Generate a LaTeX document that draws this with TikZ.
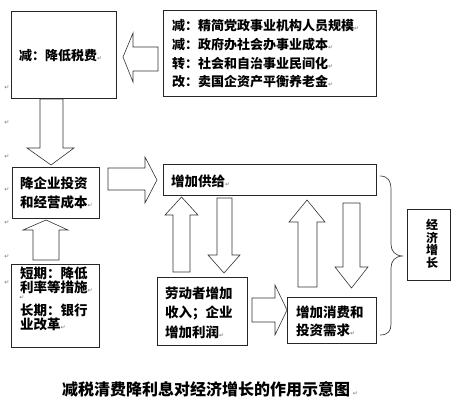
\documentclass[tikz,border=0pt]{standalone}
\usepackage{fontspec}
\newfontfamily\cjk{Noto Sans CJK SC}
\newfontfamily\dvfont{DejaVu Sans}
\newcommand\retmark{{\dvfont\mdseries\fontsize{6}{6}\selectfont\textcolor{black!55}{↵}}}
\tikzset{
  boxst/.style={draw=black!85, line width=0.7pt, fill=white, inner sep=0pt, anchor=north west},
  fat/.style={draw=black!80, line width=0.6pt, fill=white, line join=miter},
  txt/.style={inner sep=0pt, align=left, anchor=west, font=\cjk},
  pmark/.style={inner sep=0pt}
}
\begin{document}
\begin{tikzpicture}[x=1pt,y=-1pt]
\useasboundingbox (0,0) rectangle (460,404);
% boxes
\node[boxst, minimum width=105pt, minimum height=87pt] (b1) at (11,11) {};
\node[boxst, minimum width=213pt, minimum height=86pt] (b2) at (163,10) {};
\node[boxst, minimum width=87pt, minimum height=51pt] (b3) at (12,167) {};
\node[boxst, minimum width=88pt, minimum height=83pt] (b4) at (11,264) {};
\node[boxst, minimum width=213pt, minimum height=31pt] (b5) at (163,164) {};
\node[boxst, minimum width=90pt, minimum height=68pt] (b6) at (157,277) {};
\node[boxst, minimum width=89pt, minimum height=46pt] (b7) at (287,297) {};
\node[boxst, minimum width=43pt, minimum height=71pt] (b8) at (407,209) {};
% texts
\node[txt, font=\cjk\bfseries\fontsize{13}{13}\selectfont] (t1) at (19,56) {减：降低税费\retmark};
\node[txt, font=\cjk\bfseries\fontsize{13}{18.7}\selectfont] (t2) at (172,54)
  {减：精简党政事业机构人员规模\retmark\\减：政府办社会办事业成本\retmark\\转：社会和自治事业民间化\retmark\\改：卖国企资产平衡养老金\retmark};
\node[txt, font=\cjk\bfseries\fontsize{13.5}{19}\selectfont] (t3) at (20,192.5) {降企业投资\\和经营成本\retmark};
\node[txt, font=\cjk\bfseries\fontsize{13.5}{10.5}\selectfont] (t4a) at (20,280) {短期：降低\\利率等措施\retmark};
\node[pmark] (m4) at (22,298) {\retmark};
\node[txt, font=\cjk\bfseries\fontsize{13.5}{10.5}\selectfont] (t4b) at (20,317) {长期：银行\\业改革\retmark};
\node[txt, font=\cjk\bfseries\fontsize{13.5}{13}\selectfont] (t5) at (171,181) {增加供给\retmark};
\node[txt, font=\cjk\bfseries\fontsize{13.5}{19.5}\selectfont] (t6) at (165,312.5) {劳动者增加\\收入；企业\\增加利润\retmark};
\node[txt, font=\cjk\bfseries\fontsize{13.5}{18}\selectfont] (t7) at (296,321) {增加消费和\\投资需求\retmark};
\node[inner sep=0pt, align=center, font=\cjk\bfseries\fontsize{12}{12.5}\selectfont] (t8) at (432,244) {经\\济\\增\\长};
\node[txt, font=\cjk\bfseries\fontsize{16}{16}\selectfont] (cap) at (62,389) {减税清费降利息对经济增长的作用示意图\,\retmark};
% margin paragraph marks
\foreach \yy [count=\i] in {88,123,157,190,223,257,283}
  \node[pmark] (pm\i) at (7,\yy) {\retmark};
% block arrows
% b1 -> b3 (down)
\draw[fat] (40,99) -- (63,99) -- (63,148) -- (74,148) -- (51,165) -- (27,148) -- (40,148) -- cycle;
% b2 -> b1 (left)
\draw[fat] (158,47) -- (158,71) -- (133,71) -- (133,82) -- (123,57) -- (133,33) -- (133,47) -- cycle;
% b3 -> b5 (right)
\draw[fat] (108,168) -- (145,168) -- (145,157) -- (157,180) -- (145,203) -- (145,190) -- (108,190) -- cycle;
% b4 -> b3 (up)
\draw[fat] (33,260) -- (33,230) -- (23,230) -- (46,220) -- (68,230) -- (59,230) -- (59,260) -- cycle;
% b6 -> b5 (up)
\draw[fat] (173,272) -- (173,215) -- (165,215) -- (181.5,197) -- (198,215) -- (190,215) -- (190,272) -- cycle;
% b5 -> b6 (down)
\draw[fat] (217,198) -- (232,198) -- (232,255) -- (240,255) -- (224,273) -- (208,255) -- (217,255) -- cycle;
% b6 -> b7 (right)
\draw[fat] (252,298) -- (275,298) -- (275,285) -- (287,310) -- (275,335) -- (275,322) -- (252,322) -- cycle;
% b7 -> b5 (up)
\draw[fat] (298,287) -- (298,222) -- (289,222) -- (307,200) -- (325,222) -- (317,222) -- (317,287) -- cycle;
% b5 -> b7 (down)
\draw[fat] (343,203) -- (360,203) -- (360,267) -- (368,267) -- (351.5,288) -- (335,267) -- (343,267) -- cycle;
% brace
\coordinate (bt) at (380,176);
\coordinate (bb) at (380,335);
\coordinate (btip) at (403,256);
\draw[draw=black!75, line width=0.7pt] (bt) .. controls (388,176) and (391,181) .. (391,190) -- (391,244)
  .. controls (391,251) and (395,256) .. (btip)
  .. controls (395,256) and (391,261) .. (391,268) -- (391,324)
  .. controls (391,331) and (388,335) .. (bb);
\end{tikzpicture}
\end{document}
